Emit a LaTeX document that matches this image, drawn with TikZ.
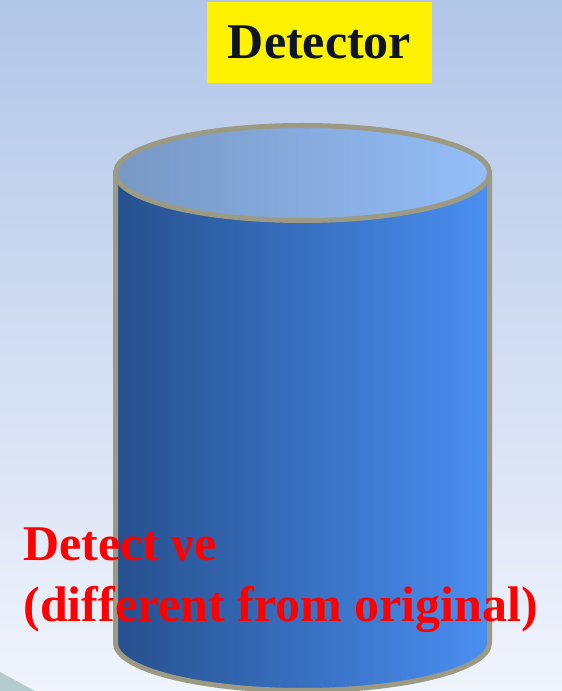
\documentclass[tikz,border=0pt]{standalone}
\usepackage{fontspec}
\setmainfont{Liberation Serif}
\usetikzlibrary{positioning}
\definecolor{SkyTop}{RGB}{178,198,232}
\definecolor{SkyBottom}{RGB}{240,244,252}
\definecolor{CornerTeal}{RGB}{180,204,204}
\definecolor{TankRim}{RGB}{156,154,130}
\definecolor{TankDark}{RGB}{38,80,142}
\definecolor{TankLight}{RGB}{74,143,242}
\definecolor{LidDark}{RGB}{120,152,196}
\definecolor{LidLight}{RGB}{148,190,248}
\definecolor{LabelInk}{RGB}{13,20,40}

\tikzset{
  tankline/.style={line width=2.5pt, draw=TankRim},
  bigtext/.style={font=\bfseries\fontsize{25}{30.5}\selectfont, inner sep=0pt}
}

\begin{document}
\begin{tikzpicture}[x=0.5pt, y=0.5pt]
  % background
  \useasboundingbox (0,0) rectangle (562,691);
  \fill[top color=SkyTop, bottom color=SkyBottom] (0,0) rectangle (562,691);
  \fill[CornerTeal] (0,19) -- (35,0) -- (0,0) -- cycle;

  % detector tank
  \shade[tankline, left color=TankDark, right color=TankLight]
    (115.5,518) -- (115.5,48) arc[start angle=180, end angle=360, x radius=187, y radius=47.5]
    -- (489.5,518) -- cycle;
  \draw[tankline, left color=LidDark, right color=LidLight]
    (302.5,518) ellipse[x radius=187, y radius=47.5];

  % labels
  \node[bigtext, fill=yellow, text=LabelInk, minimum width=112.5pt, minimum height=40.5pt] (title) at (319.5,648.5) {Detector};
  \node[bigtext, text=red, anchor=base west] (detect) at (23,130) {Detect νe};
  \node[bigtext, text=red, anchor=base west] (differ) at (23,69) {(different from original)};
\end{tikzpicture}
\end{document}
